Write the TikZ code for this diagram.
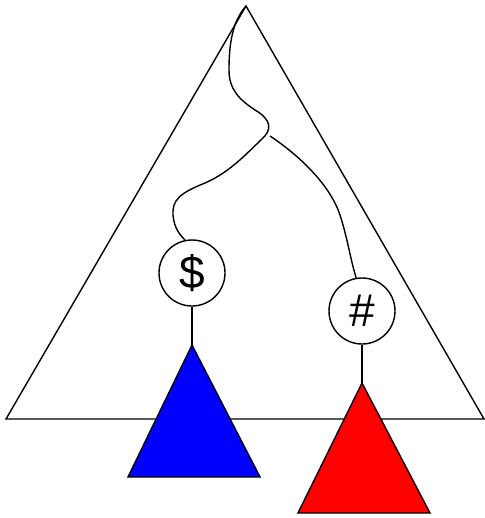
\documentclass[tikz,border=0pt]{standalone}
\usepackage{fontspec}
\setmainfont{Liberation Sans}
\usetikzlibrary{calc}

\begin{document}
\begin{tikzpicture}[x=1pt, y=-1pt, line width=1.4pt, line join=miter,
  sym/.style={draw, circle, minimum size=66pt, inner sep=0pt, font=\fontsize{46}{46}\selectfont},
  subtree/.style={draw, line join=miter}]
  \useasboundingbox (0,0) rectangle (484,518);
  % outer tree
  \coordinate (top) at (246,6);
  \draw (top) -- (6,419) -- (484,419) -- cycle;
  \node[sym] (dollar) at (192,273) {\$};
  \node[sym] (hash) at (362,311) {\#};
  % subtrees
  \coordinate (bluetop) at (192,345);
  \coordinate (redtop) at (362,383);
  \draw[subtree, fill=blue] (bluetop) -- (128,477) -- (260,477) -- cycle;
  \draw[subtree, fill=red] (redtop) -- (298,513) -- (430,513) -- cycle;
  \draw (dollar) -- (bluetop);
  \draw (hash) -- (redtop);
  % paths
  \coordinate (fork) at (270,136);
  \draw (top) .. controls (232,22) and (229,45) .. (229,70)
    .. controls (229,90) and (240,100) .. (255,110)
    .. controls (272,120) and (272,130) .. (262,139)
    .. controls (245,155) and (230,172) .. (205,183)
    .. controls (180,193) and (172,200) .. (173,215)
    .. controls (174,228) and (180,235) .. (dollar.102);
  \draw (fork) .. controls (300,156) and (330,185) .. (340,215)
    .. controls (348,240) and (350,258) .. (hash.100);
\end{tikzpicture}
\end{document}
